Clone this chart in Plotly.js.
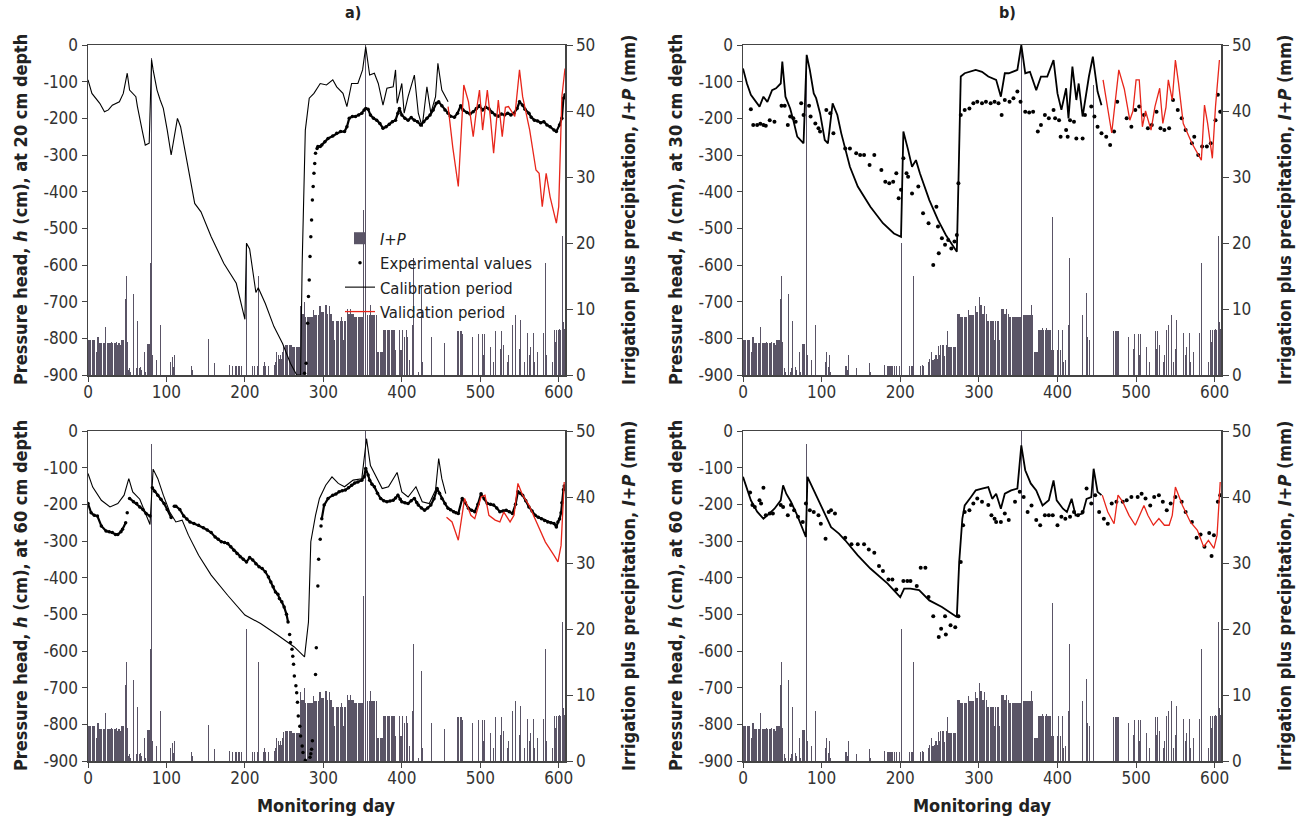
<!DOCTYPE html>
<html><head><meta charset="utf-8">
<script src="https://cdn.plot.ly/plotly-3.0.1.min.js"></script>
<style>html,body{margin:0;padding:0;background:#fff}#chart{width:1300px;height:823px}</style>
</head><body><div id="chart"></div>
<script>
// Daily irrigation plus precipitation (mm), day 0..607 (same for all panels)
const ipDaily = [
7.8,5.3,5.3,5.3,5.3,5.3,5.3,5.3,5.3,5.3,
5.3,3.5,5.8,5.8,5.8,4.8,4.8,4.8,4.8,4.8,
4.8,4.8,7.3,2.5,2.5,4.8,4.8,4.8,4.5,4.8,
5,4.8,4.8,4.5,4.8,4.8,5,4.8,4.6,4.8,
4.8,4.6,6.2,5.3,5.3,5.3,5.3,5.3,11.5,15,
5,1,0.8,1,0.5,0,2.2,0,12.3,0,
0.5,0,1,8.2,0,1.3,1,1.2,0.8,0,
2.5,0,3.5,0.5,0,4.7,4.7,4.7,4.7,4.7,
17,48,3,0,0,0,0,2.2,0,0,
0,0,7.6,0,0,0,0,0,0,0,
0,0,0,0,0,2,3.5,7.3,2.8,1.2,
3,0.5,0,0,0,0,0,0,0,0,
0,0,0,0,0,0,0,0,0,0,
1.3,0,1.3,0.8,3,1.8,0,0,0,0,
0,0,0,0,1,0,0,0,0,0,
0,0,0,0,5.4,0,0,0,0,0,
0,1.8,0.5,0.3,0,0,0,0,0,0,
0,0,0,0,0,0,0,0,0,0,
1.5,0,0,0,1.4,1.4,1.4,0,1.4,1.4,
1.4,0,1.4,1.4,0,1.4,1.4,0,0,1.4,
0,0,20,0,0,0,0,0,0,0,
1.3,0,1.3,0,1.3,0,1.3,15,0,0,
0,0,0,0,1.3,1.9,1.3,0,1.5,0,
1.3,0,0,0,0,0,2,2.5,1.5,2,
3.5,2.3,2.3,3,2.5,3,3,2.5,3.5,4.4,
3,4.5,4.5,4.5,4.5,4.5,2.9,4.5,4.5,4.5,
6.6,4.3,4.3,4.3,4.3,4.3,4.3,4.3,4.3,4.3,
4.3,10.4,9.3,9.3,9.3,9.3,11.1,8.8,8.8,8.8,
8.8,8.8,8.8,8.8,8.8,8.8,8.8,9.8,9.1,9.1,
9.1,9.1,9.1,9.1,9.1,10.4,10.4,9.5,9.5,9.5,
9.5,11.8,10.6,10.6,10.6,9.3,9.3,10.4,10.4,9.3,
9.3,8.2,8.2,8.2,5.3,8.2,8.2,8.2,8.2,8.2,
5.3,8.2,8.2,8.8,8.2,8.2,5.3,8.2,8.2,10,
10,10,9.3,9.3,9.3,10,9.3,9.3,9.3,8.8,
8.8,8.8,8.8,8.8,8.8,8.8,8.8,8.8,8.8,8.8,
8.8,25,8.8,8.8,50,0,9.1,9.1,9.1,9.1,
10.6,9.1,9.1,9.1,9.1,9.1,9.1,10.6,9.1,3.5,
3.5,3.5,3.5,3.5,3.5,3.5,6.8,6.8,6.8,6.8,
6.8,7.1,6.8,6.8,6.8,6.8,7.1,6.8,6.8,6.8,
6.8,6.8,3.8,0,24,3.8,0,6.8,3.8,0,
3.8,6.8,0,5.8,3.8,0,6.8,5.8,2,0,
2.3,0,0,0,7.6,17.7,0,0,0,0,
0,0.5,0,0,0,13.6,2,0,0,0,
0,4,9.1,0,0,0,0,12.4,5.8,0,
0,5.3,0,0,0,0,44,0,0,0,
0,0,0,0,4.8,0,0,0,0,0,
0,0,0,0,0,0,0,0,0,0,
0,6.6,6.6,6.2,6.6,6.6,6.6,6.2,6.6,0,
0,0,0.9,0,0,0,0,0,0,0,
5.8,0,0,0,0,0,6.2,4,6.2,0,
0,0,0,6.2,3,6.2,6.2,0,0,0,
3.8,0,0,4.3,0,0,0,2,0,6.6,
0,0,0,0,0,6.6,4,6.6,0,0,
4.5,0,0,6.3,0,2,3,0,0,6.8,
0,7.6,0,3,0,9.1,0,23,2,0,
4,8.3,0,0,0,0,2,0,0,0,
6.3,0,0,3,4.3,0,0,0,6.3,2,
0,0,0,3.5,0,8.1,5,0,0,0,
0,6.3,0,17,3,0,0,0,0,4.5,
0,0,2,0,6.8,6.8,5,6.8,6.8,7,
6.8,7,6.8,6.8,20,21,8,7];

// ---- Panel a: 20 cm depth
const dA_cal = [0,5,15,21,26,31,40,45,50,53,61,63,69,73,78,81,83,88,92,96,101,106,110,114,118,125,136,144,157,173,189,200,202,206,210,214,217,226,237,248,258,266,271,273,277,282,288,296,304,312,317,325,330,336,344,350,354,359,365,370,376,381,389,392,394,400,403,408,416,421,426,432,437,443,446,451,459];
const hA_cal = [-95,-132,-159,-182,-177,-164,-155,-132,-77,-123,-141,-168,-232,-273,-268,-40,-68,-123,-150,-173,-232,-300,-250,-200,-223,-305,-432,-455,-523,-595,-650,-748,-541,-556,-620,-675,-662,-705,-768,-814,-868,-900,-900,-595,-232,-145,-132,-105,-109,-95,-114,-132,-168,-105,-105,-68,-5,-82,-77,-105,-164,-118,-114,-68,-159,-105,-186,-141,-82,-186,-223,-114,-186,-141,-50,-123,-155];
const dA_val = [459,465,472,479,485,491,495,499,503,509,513,517,523,528,532,536,544,550,554,563,571,575,579,584,589,597,600,604,608];
const hA_val = [-168,-280,-386,-109,-155,-250,-180,-123,-232,-123,-200,-295,-150,-250,-170,-168,-195,-68,-141,-232,-341,-350,-441,-350,-414,-486,-441,-141,-64];
const dA_expS = [276,278,280,281,282,283,284,285,286,287,288,289,290];
const hA_expS = [-895,-868,-759,-686,-641,-577,-523,-477,-423,-386,-350,-323,-295];
const dA_exp = [292,293,296,298,302,306,312,317,322,327,330,333,337,341,345,349,352,354,357,360,364,368,372,376,380,384,388,392,395,397,400,404,408,412,416,420,424,428,432,436,440,444,447,451,455,459,462,467,471,475,478,483,487,491,495,499,503,507,511,515,519,523,527,531,535,539,543,547,550,554,557,562,565,569,573,577,581,585,589,594,597,601,604,606,608];
const hA_exp = [-282,-277,-277,-273,-264,-255,-248,-241,-236,-236,-223,-200,-195,-195,-191,-186,-177,-173,-175,-191,-200,-205,-214,-227,-223,-216,-209,-205,-186,-173,-191,-200,-205,-198,-205,-209,-218,-209,-200,-191,-177,-159,-155,-166,-177,-186,-194,-197,-186,-166,-177,-184,-188,-182,-173,-166,-177,-170,-174,-184,-191,-194,-188,-191,-186,-191,-186,-173,-155,-164,-175,-186,-197,-205,-207,-212,-209,-218,-223,-232,-236,-218,-200,-145,-136];

// ---- Panel b: 30 cm depth
const dB_cal = [0,5,10,15,21,26,31,37,42,48,50,54,60,64,69,77,81,85,90,93,98,104,108,114,120,125,136,146,162,178,192,201,204,210,215,220,225,237,248,258,272,274,277,282,290,296,304,312,322,328,333,338,349,354,359,365,373,379,387,395,400,405,411,414,419,424,427,432,440,445,451,456];
const hB_cal = [-64,-105,-136,-150,-168,-141,-155,-123,-118,-105,-45,-141,-173,-205,-250,-268,-27,-68,-132,-145,-186,-259,-268,-159,-191,-241,-332,-386,-441,-486,-514,-523,-236,-286,-332,-314,-350,-423,-477,-518,-564,-377,-86,-77,-73,-68,-73,-86,-95,-141,-77,-77,-68,0,-77,-73,-123,-86,-86,-41,-132,-177,-118,-200,-59,-150,-105,-195,-86,-32,-127,-164];
const dB_val = [458,469,478,485,492,496,500,504,508,512,519,524,530,534,538,541,546,550,554,560,571,579,583,587,591,597,601,606];
const hB_val = [-95,-240,-68,-120,-205,-180,-95,-95,-223,-180,-232,-168,-118,-214,-170,-95,-150,-41,-104,-214,-268,-300,-314,-164,-214,-309,-168,-41];
const dB_exp = [10,13,18,22,26,29,34,40,49,53,57,60,64,67,74,77,84,86,92,96,98,106,111,115,130,136,144,149,154,161,167,176,181,186,191,195,198,201,204,208,210,215,223,229,236,242,246,248,249,253,257,261,265,269,272,274,277,282,288,293,298,304,309,315,320,325,329,333,339,344,349,353,359,364,369,375,379,384,389,395,397,402,404,411,413,416,421,424,432,435,443,447,451,456,462,467,472,476,488,494,499,504,510,515,520,526,531,536,542,547,553,558,563,571,574,579,584,590,595,601,604,607];
const hB_exp = [-175,-218,-218,-215,-218,-220,-205,-209,-166,-166,-218,-195,-200,-209,-159,-191,-166,-195,-214,-227,-236,-177,-186,-241,-282,-282,-295,-300,-300,-327,-300,-341,-373,-377,-373,-350,-418,-395,-309,-350,-359,-405,-386,-459,-486,-600,-441,-495,-568,-527,-545,-532,-555,-536,-518,-377,-191,-177,-173,-159,-155,-159,-155,-159,-155,-159,-191,-150,-155,-145,-127,-155,-182,-184,-182,-236,-218,-191,-200,-177,-200,-205,-250,-232,-250,-205,-209,-255,-255,-191,-168,-195,-223,-241,-250,-273,-236,-155,-200,-223,-177,-168,-191,-227,-218,-182,-227,-232,-227,-150,-177,-200,-232,-268,-250,-300,-277,-277,-268,-205,-136,-182];

// ---- Panel c: 60 cm depth (a)
const dC_cal = [0,6,17,28,38,46,52,57,66,74,79,83,89,96,104,112,120,128,141,157,178,200,220,242,263,276,281,284,290,295,303,311,319,327,338,349,355,360,368,375,383,394,400,408,418,426,435,443,447,451,456];
const hC_cal = [-116,-153,-189,-207,-198,-175,-130,-166,-186,-232,-255,-104,-130,-175,-220,-248,-243,-284,-339,-393,-448,-502,-525,-557,-589,-616,-521,-302,-230,-184,-148,-125,-143,-152,-134,-130,-21,-94,-130,-157,-152,-113,-166,-180,-152,-193,-198,-161,-75,-130,-171];
const dC_val = [457,464,472,477,480,488,493,501,506,511,519,525,530,538,543,548,554,562,572,583,594,599,603,607];
const hC_val = [-235,-248,-298,-221,-184,-230,-239,-180,-175,-230,-243,-248,-221,-248,-230,-143,-175,-202,-248,-303,-339,-357,-312,-139];
const dC_expS = [50,257,258,260,261,262,263,265,266,267,268,270,271,273,274,277,283,284,285,286,290,291,293,294,296,297];
const hC_expS = [-223,-555,-577,-595,-614,-636,-668,-695,-714,-740,-777,-805,-832,-859,-877,-898,-890,-880,-868,-845,-664,-591,-423,-350,-295,-259];
const dC_exp = [0,4,8,12,17,23,27,31,35,38,42,44,48,null,53,58,62,66,70,74,79,null,82,85,89,93,97,101,106,null,110,112,117,122,126,130,135,141,147,152,157,162,166,170,174,178,182,186,190,194,198,202,206,210,214,218,222,226,230,233,236,239,242,244,247,250,253,255,null,298,301,306,312,316,320,324,328,332,336,340,344,349,352,354,357,359,362,365,369,373,377,381,385,389,392,395,398,400,404,408,412,416,419,421,425,429,433,437,441,445,448,451,455,459,462,466,469,472,477,481,485,489,493,497,501,505,509,513,517,521,525,529,533,537,541,545,548,551,554,558,562,566,570,574,578,582,586,590,594,597,599,601,603,604,606,607];
const hC_exp = [-198,-223,-230,-232,-259,-273,-275,-277,-282,-282,-275,-268,-250,null,-184,-193,-198,-207,-214,-225,-232,null,-155,-164,-175,-186,-198,-214,-236,null,-205,-205,-214,-232,-240,-248,-252,-257,-264,-270,-277,-289,-295,-302,-304,-307,-316,-325,-334,-343,-350,-357,-345,-352,-362,-370,-375,-384,-398,-412,-425,-439,-445,-457,-466,-480,-500,-521,null,-239,-202,-184,-175,-172,-166,-163,-161,-155,-148,-142,-139,-134,-125,-102,-120,-134,-145,-152,-170,-184,-190,-193,-191,-189,-183,-175,-186,-193,-196,-198,-190,-184,-195,-202,-210,-216,-210,-202,-185,-157,-170,-184,-198,-211,-215,-220,-223,-225,-184,-196,-211,-216,-220,-200,-171,-185,-198,-200,-202,-210,-220,-218,-216,-220,-225,-200,-166,-170,-175,-190,-207,-218,-230,-235,-239,-244,-248,-250,-252,-262,-248,-240,-223,-196,-160,-150];

// ---- Panel d: 60 cm depth (b)
const dD_cal = [0,5,10,18,26,31,40,48,51,55,61,69,80,82,88,96,104,112,117,122,130,146,162,184,200,205,213,224,237,253,272,275,279,282,290,296,304,312,317,322,328,333,341,349,354,359,366,373,381,389,395,399,407,412,418,423,432,437,443,446,451,456];
const hD_cal = [-125,-157,-189,-220,-239,-230,-212,-189,-148,-171,-193,-230,-289,-125,-153,-189,-225,-262,-271,-280,-298,-339,-375,-416,-453,-430,-430,-434,-462,-480,-507,-357,-239,-203,-180,-162,-157,-153,-185,-171,-212,-171,-162,-157,-39,-107,-143,-162,-203,-189,-135,-189,-212,-221,-185,-230,-225,-185,-180,-103,-166,-175];
const dD_val = [457,464,472,477,483,491,499,507,510,515,522,529,536,542,546,550,559,569,578,586,592,599,603,607];
const hD_val = [-175,-221,-253,-175,-193,-230,-257,-216,-203,-230,-257,-239,-257,-257,-230,-153,-203,-248,-271,-316,-298,-320,-284,-139];
const dD_exp = [9,12,15,21,23,26,29,34,38,48,51,57,61,65,70,76,80,85,90,96,99,105,109,112,117,130,138,146,154,160,167,173,178,185,190,195,204,209,213,221,226,232,236,242,249,252,257,258,264,270,274,277,280,282,288,293,298,304,312,316,320,322,328,333,338,346,352,357,362,367,373,378,384,389,394,400,405,410,416,421,426,432,437,443,448,453,459,464,469,475,483,488,494,502,507,512,518,523,529,534,539,544,550,558,563,571,577,582,587,593,596,599,604,607];
const hD_exp = [-168,-202,-207,-189,-198,-155,-230,-225,-225,-202,-207,-230,-202,-216,-234,-248,-198,-216,-221,-230,-253,-294,-221,-216,-225,-291,-309,-309,-309,-323,-332,-368,-382,-405,-405,-432,-409,-409,-409,-423,-373,-373,-453,-505,-562,-539,-505,-555,-530,-535,-505,-357,-257,-221,-216,-198,-184,-193,-202,-230,-239,-248,-248,-225,-243,-193,-166,-180,-221,-203,-243,-257,-230,-230,-230,-257,-234,-239,-234,-221,-230,-221,-157,-198,-175,-221,-239,-253,-198,-193,-193,-189,-180,-180,-171,-184,-203,-180,-175,-193,-216,-198,-180,-193,-221,-248,-291,-282,-316,-278,-341,-284,-193,-175];

const xTicks = [0,100,200,300,400,500,600];
const hTickVals = [0,-100,-200,-300,-400,-500,-600,-700,-800,-900];
const hTickText = ['0','-100','-200','-300','-400','-500','-600','-700','-800','-900'];
const ipTicks = [0,10,20,30,40,50];

const FONT = "'Liberation Sans Narrow','Arial Narrow','DejaVu Sans Condensed',Arial,sans-serif";
const BAR = '#5a5466';
const AX = '#444';

const panels = [
  {xa:'x',  yb:'y',  yp:'y2', cal:[dA_cal,hA_cal], val:[dA_val,hA_val], exp:[dA_exp,hA_exp], expS:[dA_expS,hA_expS], legend:true, thin:true},
  {xa:'x2', yb:'y3', yp:'y4', cal:[dB_cal,hB_cal], val:[dB_val,hB_val], exp:null, expS:[dB_exp,hB_exp]},
  {xa:'x3', yb:'y5', yp:'y6', cal:[dC_cal,hC_cal], val:[dC_val,hC_val], exp:[dC_exp,hC_exp], expS:[dC_expS,hC_expS], thin:true},
  {xa:'x4', yb:'y7', yp:'y8', cal:[dD_cal,hD_cal], val:[dD_val,hD_val], exp:null, expS:[dD_exp,hD_exp]}
];

const traces = [];
panels.forEach(p => {
  traces.push({type:'bar', x0:0, dx:1, y:ipDaily, xaxis:p.xa, yaxis:p.yb, name:'<i>I+P</i>',
    marker:{color:BAR, line:{width:0}}, width:0.85, showlegend:!!p.legend, hoverinfo:'skip'});
  traces.push({type:'scatter', mode:'markers', x:p.expS[0], y:p.expS[1], xaxis:p.xa, yaxis:p.yp,
    name:'Experimental values', marker:{color:'#000', size:p.thin?3.5:4, symbol:'circle'}, showlegend:!!p.legend});
  if (p.exp) traces.push({type:'scatter', mode:'lines+markers', x:p.exp[0], y:p.exp[1], xaxis:p.xa, yaxis:p.yp,
    name:'Experimental values', line:{color:'#000', width:2.2}, marker:{color:'#000', size:3.5}, connectgaps:false, showlegend:false});
  traces.push({type:'scatter', mode:'lines', x:p.cal[0], y:p.cal[1], xaxis:p.xa, yaxis:p.yp,
    name:'Calibration period', line:{color:'#000', width:p.thin?1.1:1.8}, showlegend:!!p.legend});
  traces.push({type:'scatter', mode:'lines', x:p.val[0], y:p.val[1], xaxis:p.xa, yaxis:p.yp,
    name:'Validation period', line:{color:'#e8261b', width:1.3}, showlegend:!!p.legend});
});

const tickFont = {family:FONT, size:17, color:'#333'};
function xAx(dom, anchor){ return {domain:dom, anchor:anchor, range:[0,608], tickvals:xTicks, ticks:'outside', ticklen:5,
  tickcolor:AX, showline:true, mirror:true, linecolor:AX, linewidth:1.5, showgrid:false, zeroline:false, tickfont:tickFont,
  ticklabelstandoff:-4}; }
function yBar(dom, anchor){ return {domain:dom, anchor:anchor, side:'right', range:[0,50], tickvals:ipTicks, ticks:'outside', ticklen:6,
  tickcolor:AX, showline:true, linecolor:AX, linewidth:1.5, showgrid:false, zeroline:false, tickfont:tickFont}; }
function yP(over, anchor){ return {overlaying:over, anchor:anchor, side:'left', range:[-900,0], tickvals:hTickVals, ticktext:hTickText,
  ticks:'outside', ticklen:5, tickcolor:AX, showline:true, linecolor:AX, linewidth:1.5, showgrid:false, zeroline:false, tickfont:tickFont}; }

const W=1300, H=823;
const LX=[88/W, 565/W], RX=[743/W, 1221/W];
const TY=[1-375/H, 1-45/H], BY=[1-761/H, 1-431/H];

const titleFont = {family:FONT, size:18, color:'#222'};
function ann(text, xpx, ypx, angle, size){ return {text:text, xref:'paper', yref:'paper', x:xpx/W, y:1-ypx/H,
  xanchor:'center', yanchor:'middle', showarrow:false, textangle:angle||0, font:Object.assign({}, titleFont, size?{size:size}:{})}; }

const layout = {
  width:W, height:H, margin:{l:0,r:0,t:0,b:0}, paper_bgcolor:'#fff', plot_bgcolor:'rgba(0,0,0,0)',
  barmode:'overlay', bargap:0, showlegend:true,
  legend:{x:340/W, y:1-221/H, xanchor:'left', yanchor:'top', bgcolor:'rgba(0,0,0,0)', itemwidth:30,
    font:{family:FONT, size:16.5, color:'#222'}, tracegroupgap:0},
  xaxis:xAx(LX,'y'), yaxis:yBar(TY,'x'), yaxis2:yP('y','x'),
  xaxis2:xAx(RX,'y3'), yaxis3:yBar(TY,'x2'), yaxis4:yP('y3','x2'),
  xaxis3:xAx(LX,'y5'), yaxis5:yBar(BY,'x3'), yaxis6:yP('y5','x3'),
  xaxis4:xAx(RX,'y7'), yaxis7:yBar(BY,'x4'), yaxis8:yP('y7','x4'),
  annotations:[
    ann('<b>a)</b>', 353, 13, 0, 16), ann('<b>b)</b>', 1008, 13, 0, 16),
    ann('<b>Pressure head, <i>h</i> (cm), at 20 cm depth</b>', 20, 210, -90),
    ann('<b>Pressure head, <i>h</i> (cm), at 30 cm depth</b>', 675, 210, -90),
    ann('<b>Pressure head, <i>h</i> (cm), at 60 cm depth</b>', 20, 596, -90),
    ann('<b>Pressure head, <i>h</i> (cm), at 60 cm depth</b>', 675, 596, -90),
    ann('<b>Irrigation plus precipitation, <i>I+P</i> (mm)</b>', 628, 210, -90),
    ann('<b>Irrigation plus precipitation, <i>I+P</i> (mm)</b>', 1284, 210, -90),
    ann('<b>Irrigation plus precipitation, <i>I+P</i> (mm)</b>', 628, 596, -90),
    ann('<b>Irrigation plus precipitation, <i>I+P</i> (mm)</b>', 1284, 596, -90),
    ann('<b>Monitoring day</b>', 326, 805, 0), ann('<b>Monitoring day</b>', 982, 805, 0)
  ]
};

Plotly.newPlot('chart', traces, layout, {staticPlot:true, displayModeBar:false});
</script></body></html>
